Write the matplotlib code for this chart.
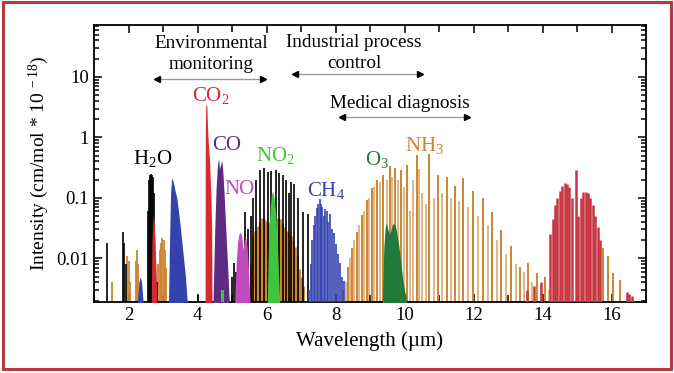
import matplotlib.pyplot as plt
from matplotlib.patches import Rectangle
from matplotlib.ticker import FixedLocator, NullFormatter, MultipleLocator

plt.rcParams['font.family'] = ['Liberation Serif', 'DejaVu Serif']
plt.rcParams['mathtext.fontset'] = 'custom'
plt.rcParams['mathtext.rm'] = 'Liberation Serif'
plt.rcParams['mathtext.it'] = 'Liberation Serif:italic'

# ---- stick lines (wavelength um, intensity) ----
h2o_wl = [1.37, 1.85, 1.88, 1.92, 2.57, 2.60, 2.63, 2.66, 2.69, 2.72, 2.75, 2.78, 2.82,
          4.00, 5.00, 5.06, 5.13, 5.20, 5.30, 5.38, 5.46, 5.54, 5.62, 5.71, 5.81, 5.92,
          6.03, 6.14, 6.27, 6.36, 6.48, 6.57, 6.66, 6.72, 6.81, 6.91, 7.06, 7.20]
h2o_int = [0.018, 0.027, 0.018, 0.008, 0.06, 0.2, 0.24, 0.25, 0.24, 0.22, 0.12, 0.01, 0.004,
           0.0025, 0.005, 0.0085, 0.006, 0.009, 0.012, 0.059, 0.03, 0.05, 0.1, 0.2, 0.29, 0.31,
           0.27, 0.28, 0.29, 0.26, 0.24, 0.2, 0.12, 0.18, 0.17, 0.1, 0.059, 0.055]

nh3_nir_wl = [1.52, 1.96, 2.00, 2.04, 2.22, 2.25, 2.28, 2.86, 2.90, 2.94, 2.98, 3.02, 3.06, 3.10]
nh3_nir_int = [0.004, 0.011, 0.009, 0.004, 0.009, 0.014, 0.008, 0.008, 0.014, 0.018, 0.022, 0.02, 0.014, 0.007]

nh3_v4_wl = [5.55, 5.62, 5.68, 5.74, 5.80, 5.86, 5.92, 5.98, 6.04, 6.10, 6.16, 6.22, 6.28,
             6.34, 6.40, 6.46, 6.52, 6.58, 6.64, 6.70, 6.76, 6.82, 6.88, 6.94, 7.00, 7.06]
nh3_v4_int = [0.008, 0.023, 0.028, 0.034, 0.04, 0.047, 0.045, 0.042, 0.04, 0.035, 0.03, 0.03, 0.04,
              0.047, 0.045, 0.038, 0.033, 0.028, 0.025, 0.023, 0.02, 0.0155, 0.011, 0.0067, 0.005, 0.0035]

nh3_wl = [8.23, 8.37, 8.49, 8.61, 8.76, 8.90, 9.05, 9.19, 9.39, 9.58, 9.72, 9.90, 10.06, 10.35,
          10.72, 10.98, 11.22, 11.46, 11.70, 11.99, 12.28, 12.55, 12.80, 13.10, 13.35, 13.59,
          13.83, 14.07, 15.76, 15.90, 16.05, 16.25]
nh3_int = [0.003, 0.0073, 0.015, 0.027, 0.052, 0.093, 0.145, 0.2, 0.24, 0.33, 0.31, 0.29, 0.35, 0.51,
           0.54, 0.24, 0.22, 0.16, 0.21, 0.13, 0.10, 0.059, 0.029, 0.016, 0.0073, 0.0083,
           0.0057, 0.005, 0.015, 0.011, 0.0057, 0.0044]

nh3_weak_wl = [8.30, 8.43, 8.55, 8.68, 8.83, 8.97, 9.12, 9.29, 9.48, 9.65, 9.81, 9.98, 10.15, 10.25,
               10.42, 10.52, 10.62, 10.85, 11.10, 11.34, 11.58, 11.85, 12.13, 12.42, 12.68, 12.95,
               13.22, 13.47, 13.71, 13.95, 14.20, 14.50]
nh3_weak_int = [0.004, 0.01, 0.02, 0.035, 0.06, 0.1, 0.15, 0.18, 0.2, 0.22, 0.2, 0.15, 0.06, 0.2,
                0.3, 0.12, 0.08, 0.1, 0.12, 0.1, 0.09, 0.07, 0.05, 0.035, 0.02, 0.012,
                0.008, 0.006, 0.004, 0.0035, 0.003, 0.0025]

co2_15_wl = [13.55, 13.75, 13.95, 14.22, 14.29, 14.36, 14.43, 14.50, 14.57, 14.64, 14.71, 14.78,
             14.85, 14.96, 15.04, 15.11, 15.18, 15.25, 15.32, 15.39, 15.46, 15.53, 15.60, 15.67,
             16.45, 16.52, 16.60]
co2_15_int = [0.003, 0.0035, 0.004, 0.025, 0.045, 0.075, 0.1, 0.13, 0.16, 0.175, 0.17, 0.15,
              0.1, 0.29, 0.05, 0.1, 0.125, 0.127, 0.12, 0.1, 0.075, 0.05, 0.033, 0.02,
              0.0028, 0.0026, 0.0024]

ch4b_wl = [7.22, 7.28, 7.33, 7.38, 7.42, 7.46, 7.50, 7.54, 7.58, 7.62, 7.66, 7.70, 7.74, 7.79,
           7.84, 7.90, 7.96, 8.02, 8.08, 8.14, 8.20, 8.25]
ch4b_int = [0.003, 0.008, 0.02, 0.035, 0.05, 0.068, 0.08, 0.095, 0.08, 0.07, 0.05, 0.065, 0.06, 0.04,
            0.054, 0.03, 0.026, 0.017, 0.012, 0.0085, 0.005, 0.0042]

no2_small_wl = [4.72, 4.75]
no2_small_int = [0.003, 0.003]

# ---- dense band envelopes ----
co2_43_wl = [4.22, 4.225, 4.24, 4.27, 4.29, 4.31, 4.35, 4.39, 4.41, 4.42]
co2_43_int = [0.002, 1.0, 3.5, 3.3, 1.5, 0.85, 0.4, 0.1, 0.03, 0.002]

co2_27_wl = [2.66, 2.68, 2.71, 2.74, 2.77, 2.80, 2.82]
co2_27_int = [0.002, 0.02, 0.05, 0.04, 0.02, 0.006, 0.002]

co_wl = [4.45, 4.50, 4.54, 4.58, 4.61, 4.64, 4.67, 4.70, 4.73, 4.77, 4.82, 4.87, 4.92]
co_int = [0.002, 0.03, 0.15, 0.35, 0.45, 0.3, 0.35, 0.42, 0.3, 0.12, 0.03, 0.008, 0.002]

no_wl = [5.08, 5.12, 5.16, 5.20, 5.24, 5.28, 5.32, 5.36, 5.40, 5.44, 5.48, 5.52]
no_int = [0.002, 0.008, 0.018, 0.025, 0.027, 0.024, 0.014, 0.02, 0.022, 0.015, 0.006, 0.002]

no2_wl = [6.02, 6.06, 6.10, 6.14, 6.18, 6.22, 6.26, 6.30, 6.34, 6.38]
no2_int = [0.002, 0.02, 0.06, 0.11, 0.13, 0.1, 0.06, 0.025, 0.008, 0.002]

ch4a_wl = [3.16, 3.19, 3.22, 3.25, 3.28, 3.31, 3.35, 3.40, 3.45, 3.50, 3.55, 3.60, 3.65, 3.70]
ch4a_int = [0.002, 0.02, 0.12, 0.21, 0.2, 0.17, 0.13, 0.1, 0.06, 0.034, 0.018, 0.0095, 0.005, 0.002]

ch4c_wl = [2.26, 2.30, 2.34, 2.38, 2.42]
ch4c_int = [0.002, 0.004, 0.005, 0.004, 0.002]

o3_wl = [9.36, 9.40, 9.44, 9.48, 9.52, 9.56, 9.60, 9.64, 9.68, 9.72, 9.76, 9.80, 9.85, 9.90,
         9.95, 10.0, 10.06]
o3_int = [0.002, 0.015, 0.032, 0.038, 0.03, 0.025, 0.028, 0.035, 0.038, 0.036, 0.03, 0.022, 0.014,
          0.008, 0.0045, 0.003, 0.002]

BASE = 1e-3
c_nh3 = '#cc8433'
c_nh3_light = '#ddb07a'
c_co2 = '#d42a30'
c_co2b = '#c83540'
c_co = '#5e2a84'
c_no = '#c24cbc'
c_no2 = '#3fc43f'
c_ch4 = '#3442ad'
c_o3 = '#217a3c'

fig = plt.figure(figsize=(6.74, 3.73), dpi=100)
ax = fig.add_axes([94 / 674, 1 - 302 / 373, 552 / 674, 277 / 373])
ax.set_yscale('log')
ax.set_xlim(1.0, 17.0)
ax.set_ylim(0.0019, 72)

# orange NH3
ax.vlines(nh3_weak_wl, BASE, nh3_weak_int, color=c_nh3_light, lw=1.3, zorder=1)
ax.vlines(nh3_wl, BASE, nh3_int, color=c_nh3, lw=1.4, zorder=2)
ax.vlines(nh3_nir_wl, BASE, nh3_nir_int, color=c_nh3, lw=1.3, zorder=2)
ax.vlines(nh3_v4_wl, BASE, nh3_v4_int, color=c_nh3, lw=2.0, zorder=2)

# black H2O
ax.vlines(h2o_wl, BASE, h2o_int, color='black', lw=1.2, zorder=3)

# filled bands
ax.fill_between(co2_27_wl, BASE, co2_27_int, color=c_co2, lw=0, zorder=4)
ax.fill_between(ch4c_wl, BASE, ch4c_int, color=c_ch4, lw=0, zorder=4)
ax.fill_between(ch4a_wl, BASE, ch4a_int, color=c_ch4, lw=0, zorder=4)
ax.fill_between(co2_43_wl, BASE, co2_43_int, color=c_co2, lw=0, zorder=4)
ax.fill_between(co_wl, BASE, co_int, color=c_co, lw=0, zorder=4)
ax.fill_between(no_wl, BASE, no_int, color=c_no, lw=0, zorder=4)
ax.fill_between(no2_wl, BASE, no2_int, color=c_no2, lw=0, zorder=5)
ax.fill_between(o3_wl, BASE, o3_int, color=c_o3, lw=0, zorder=4)
ax.vlines(no2_small_wl, BASE, no2_small_int, color=c_no2, lw=1.5, zorder=5)
ax.vlines(ch4b_wl, BASE, ch4b_int, color=c_ch4, lw=1.2, zorder=4)
ax.vlines(co2_15_wl, BASE, co2_15_int, color=c_co2b, lw=1.8, zorder=4)

# molecule labels
lab = dict(ha='center', va='center', fontsize=15)
ax.text(2.71, 0.44, r'H$_2$O', color='black', **lab)
ax.text(4.39, 5.0, r'CO$_2$', color=c_co2, **lab)
ax.text(4.85, 0.72, 'CO', color=c_co, **lab)
ax.text(5.23, 0.14, 'NO', color=c_no, **lab)
ax.text(6.26, 0.5, r'NO$_2$', color=c_no2, **lab)
ax.text(7.72, 0.13, r'CH$_4$', color=c_ch4, **lab)
ax.text(9.2, 0.43, r'O$_3$', color=c_o3, **lab)
ax.text(10.57, 0.72, r'NH$_3$', color=c_nh3, **lab)

# application ranges
ranges = [
    ('Environmental\nmonitoring', 2.83, 5.9, 9.3, 4.39, 24.0),
    ('Industrial process\ncontrol', 6.83, 10.45, 11.2, 8.54, 25.0),
    ('Medical diagnosis', 8.19, 11.81, 2.18, 9.87, 3.65),
]
for txt, x0, x1, yy, tx, ty in ranges:
    ax.plot([x0, x1], [yy, yy], color='0.6', lw=1.0, zorder=6)
    ax.plot([x0], [yy], marker='<', color='black', ms=5, zorder=7)
    ax.plot([x1], [yy], marker='>', color='black', ms=5, zorder=7)
    ax.text(tx, ty, txt, ha='center', va='center', fontsize=13.8, linespacing=1.3)

# axes styling
ax.xaxis.set_major_locator(MultipleLocator(2))
ax.xaxis.set_minor_locator(MultipleLocator(1))
ax.yaxis.set_major_locator(FixedLocator([0.01, 0.1, 1, 10]))
ax.set_yticklabels(['0.01', '0.1', '1', '10'])
ax.yaxis.set_minor_formatter(NullFormatter())
ax.tick_params(which='both', direction='in', top=True, right=True, labelsize=13.5, width=1.1)
ax.tick_params(which='major', length=6)
ax.tick_params(which='minor', length=3.5)
ax.tick_params(axis='x', which='minor', length=5)
for s in ax.spines.values():
    s.set_linewidth(1.3)

ax.set_xlabel('Wavelength (µm)', fontsize=15, labelpad=5)
ax.set_ylabel(r'Intensity (cm/mol * 10$^{\ -18}$)', fontsize=14, labelpad=4)

fig.patches.append(Rectangle((0.004, 0.012), 0.992, 0.982, transform=fig.transFigure,
                             fill=False, ec='#b53a40', lw=2.2))

fig.savefig('out.png', dpi=100)
